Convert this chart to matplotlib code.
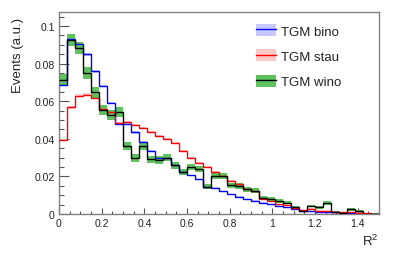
import numpy as np
import matplotlib
matplotlib.use("Agg")
import matplotlib.pyplot as plt
from matplotlib.patches import Patch
from matplotlib.lines import Line2D
from matplotlib.ticker import MultipleLocator, FuncFormatter

plt.rcParams['font.family'] = ['Liberation Sans', 'DejaVu Sans']
plt.rcParams['mathtext.default'] = 'regular'

# ---- data ----
bin_edges = np.linspace(0.0, 1.5, 41)

bino = [0.0687, 0.0930, 0.0904, 0.0849, 0.0760, 0.0682, 0.0590, 0.0479,
        0.0479, 0.0434, 0.0384, 0.0336, 0.0300, 0.0297, 0.0259, 0.0225,
        0.0206, 0.0184, 0.0145, 0.0140, 0.0122, 0.0104, 0.0092, 0.0078,
        0.0070, 0.0060, 0.0051, 0.0042, 0.0035, 0.0026, 0.0018, 0.0017,
        0.0013, 0.0010, 0.0008, 0.0005, 0.0003, 0.0005, 0.0002, 0.0001]

stau = [0.0395, 0.0568, 0.0630, 0.0635, 0.0617, 0.0559, 0.0545, 0.0484,
        0.0488, 0.0473, 0.0456, 0.0437, 0.0416, 0.0398, 0.0377, 0.0333,
        0.0300, 0.0270, 0.0252, 0.0224, 0.0202, 0.0176, 0.0158, 0.0131,
        0.0120, 0.0078, 0.0069, 0.0051, 0.0047, 0.0033, 0.0022, 0.0028,
        0.0018, 0.0015, 0.0008, 0.0008, 0.0010, 0.0007, 0.0003, 0.0001]

wino = [0.0715, 0.0926, 0.0885, 0.0750, 0.0648, 0.0555, 0.0525, 0.0541,
        0.0362, 0.0297, 0.0363, 0.0291, 0.0288, 0.0300, 0.0259, 0.0222,
        0.0250, 0.0238, 0.0145, 0.0202, 0.0202, 0.0152, 0.0149, 0.0131,
        0.0125, 0.0087, 0.0081, 0.0069, 0.0060, 0.0038, 0.0018, 0.0042,
        0.0035, 0.0058, 0.0012, 0.0006, 0.0024, 0.0015, 0.0000, 0.0002]

wino_err = [0.0032, 0.0034, 0.0032, 0.0030, 0.0029, 0.0027, 0.0026, 0.0026,
            0.0022, 0.0020, 0.0022, 0.0020, 0.0020, 0.0020, 0.0018, 0.0017,
            0.0018, 0.0017, 0.0014, 0.0016, 0.0016, 0.0014, 0.0014, 0.0013,
            0.0012, 0.0010, 0.0010, 0.0009, 0.0009, 0.0007, 0.0005, 0.0007,
            0.0007, 0.0009, 0.0004, 0.0003, 0.0006, 0.0004, 0.0001, 0.0002]

bino_err = [0.0007, 0.0008, 0.0008, 0.0008, 0.0007, 0.0007, 0.0007, 0.0006,
            0.0006, 0.0006, 0.0005, 0.0005, 0.0005, 0.0005, 0.0005, 0.0004,
            0.0004, 0.0004, 0.0004, 0.0003, 0.0003, 0.0003, 0.0003, 0.0003,
            0.0003, 0.0002, 0.0002, 0.0002, 0.0002, 0.0002, 0.0001, 0.0001,
            0.0001, 0.0001, 0.0001, 0.0001, 0.0001, 0.0001, 0.0001, 0.0001]

stau_err = [0.0006, 0.0007, 0.0007, 0.0007, 0.0007, 0.0007, 0.0007, 0.0006,
            0.0006, 0.0006, 0.0006, 0.0006, 0.0006, 0.0006, 0.0005, 0.0005,
            0.0005, 0.0005, 0.0005, 0.0004, 0.0004, 0.0004, 0.0004, 0.0003,
            0.0003, 0.0003, 0.0003, 0.0002, 0.0002, 0.0002, 0.0001, 0.0002,
            0.0001, 0.0001, 0.0001, 0.0001, 0.0001, 0.0001, 0.0001, 0.0001]

labels = ["TGM bino", "TGM stau", "TGM wino"]
x_ticks = [0, 0.2, 0.4, 0.6, 0.8, 1.0, 1.2, 1.4]
y_ticks = [0, 0.02, 0.04, 0.06, 0.08, 0.1]

# ---- styles ----
line_colors = ["#0000ff", "#ff0000", "#000000"]
band_colors = ["#c8c8ff", "#ffc8c8", "#5ec35e"]
frame_col = "#808080"

fig = plt.figure(figsize=(3.99, 2.55), dpi=100)
ax = fig.add_axes([59/399, 1 - 215/255, 320/399, 202/255])

series = [np.array(bino), np.array(stau), np.array(wino)]
errors = [np.array(bino_err), np.array(stau_err), np.array(wino_err)]

for v, e, bc in zip(series, errors, band_colors):
    ax.stairs(v + e, bin_edges, baseline=v - e, fill=True,
              color=bc, linewidth=0, zorder=2)
for v, lc in zip(series, line_colors):
    ax.stairs(v, bin_edges, color=lc, linewidth=1.0, baseline=None, zorder=3)

ax.set_xlim(0, 1.5)
ax.set_ylim(0, 0.1075)

ax.set_xticks(x_ticks)
ax.set_yticks(y_ticks)
fmt = FuncFormatter(lambda val, pos: ('%g' % round(val, 4)))
ax.xaxis.set_major_formatter(fmt)
ax.yaxis.set_major_formatter(fmt)
ax.xaxis.set_minor_locator(MultipleLocator(0.05))
ax.yaxis.set_minor_locator(MultipleLocator(0.005))

ax.tick_params(axis='both', which='both', direction='in', color='#555555',
               labelsize=7.5, labelcolor='#222222', width=0.8)
ax.tick_params(axis='y', which='major', length=6.9, pad=3)
ax.tick_params(axis='y', which='minor', length=3.5)
ax.tick_params(axis='x', which='major', length=4.4, pad=3)
ax.tick_params(axis='x', which='minor', length=2.2)
ax.tick_params(top=False, right=False, which='both')

for s in ax.spines.values():
    s.set_color(frame_col)
    s.set_linewidth(1.0)

ax.set_ylabel("Events (a.u.)", fontsize=9.5, color='#222222')
ax.yaxis.label.set_ha('right')
ax.yaxis.label.set_va('center')
ax.yaxis.set_label_coords(-0.128, 0.975)

ax.set_xlabel("R$^{2}$", fontsize=9.5, color='#222222')
ax.xaxis.label.set_ha('right')
ax.xaxis.label.set_va('center')
ax.xaxis.set_label_coords(0.997, -0.13)

handles = []
for bc, lc in zip(band_colors, line_colors):
    handles.append((Patch(facecolor=bc, edgecolor='none'),
                    Line2D([], [], color=lc, linewidth=1.0)))
leg = ax.legend(handles, labels, loc='upper left',
                bbox_to_anchor=(0.616, 0.94), frameon=False,
                fontsize=9.5, borderpad=0, borderaxespad=0,
                handlelength=1.5, handleheight=1.0, handletextpad=0.35,
                labelspacing=0.9)
for t in leg.get_texts():
    t.set_color('#222222')

fig.savefig("out.png", dpi=100)
